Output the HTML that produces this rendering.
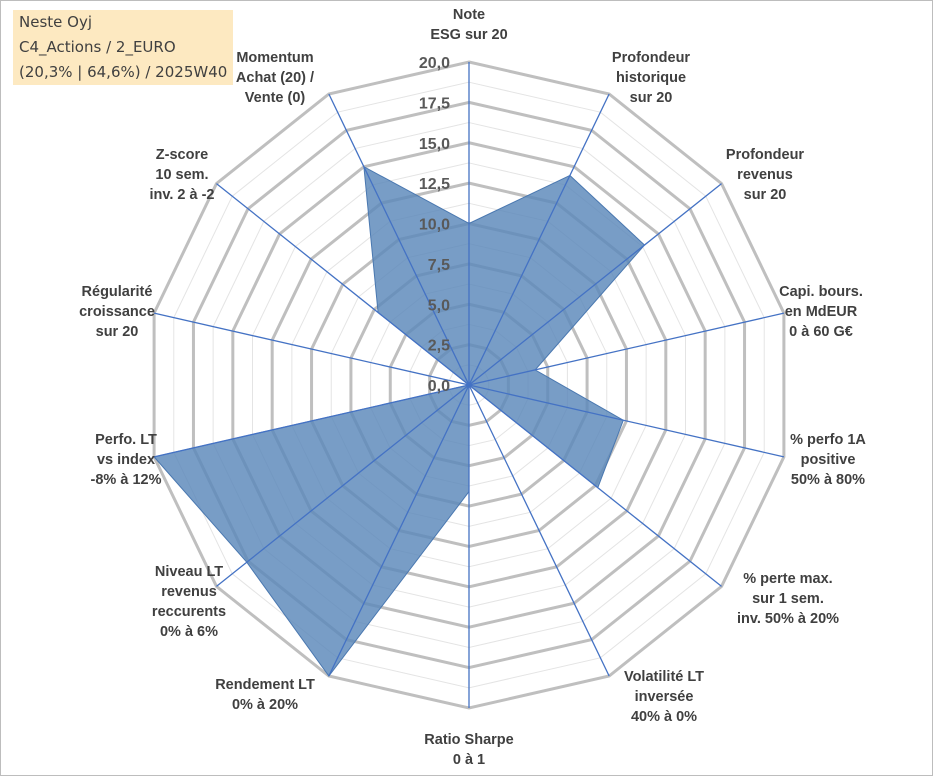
<!DOCTYPE html>
<html><head><meta charset="utf-8">
<style>
html,body{margin:0;padding:0;background:#fff;}
#wrap{position:relative;width:933px;height:776px;overflow:hidden;font-family:"Liberation Sans",Arial,sans-serif;}
#frame{position:absolute;left:0;top:0;width:931px;height:774px;border:1px solid #bdbdbd;}
#title{position:absolute;left:13px;top:10px;width:220px;height:75px;background:#fde9c1;color:#404040;font-family:"DejaVu Sans",sans-serif;font-size:15px;line-height:25px;padding-left:6px;box-sizing:border-box;}
.lbl{position:absolute;font-weight:bold;font-size:14.5px;color:#404040;text-align:center;line-height:20px;white-space:nowrap;transform:translate(-50%,0);}
</style></head><body>
<div id="wrap">
<div id="frame"></div>
<svg id="chart" width="933" height="776" style="position:absolute;left:0;top:0"></svg>
<div id="title">Neste Oyj<br>C4_Actions / 2_EURO<br>(20,3% | 64,6%) / 2025W40</div>
<div id="labels"></div>
</div>
<script>
const categories = ["Note\nESG sur 20","Profondeur\nhistorique\nsur 20","Profondeur\nrevenus\nsur 20","Capi. bours.\nen MdEUR\n0 à 60 G€","% perfo 1A\npositive\n50% à 80%","% perte max.\nsur 1 sem.\ninv. 50% à 20%","Volatilité LT\ninversée\n40% à 0%","Ratio Sharpe\n0 à 1","Rendement LT\n0% à 20%","Niveau LT\nrevenus\nreccurents\n0% à 6%","Perfo. LT\nvs index\n-8% à 12%","Régularité\ncroissance\nsur 20","Z-score\n10 sem.\ninv. 2 à -2","Momentum\nAchat (20) /\nVente (0)"];
const values = [10, 14.4, 13.9, 4.2, 9.8, 10.2, 0, 6.6, 20, 17.6, 20, 0, 7.2, 15];
const tickLabels = ["0,0","2,5","5,0","7,5","10,0","12,5","15,0","17,5","20,0"];
const maxVal = 20;
// label anchor positions (top-center of each label block)
const labelPos = [[469,5],[651,48],[765,145],[821,282],[828,430],[788,569],[664,667],[469,730],[265,675],[189,562],[126,430],[117,282],[182,145],[275,48]];

const cx=469, cy=385, R=323, N=categories.length;
const svg=document.getElementById('chart');
const NS='http://www.w3.org/2000/svg';
function ang(i){return -Math.PI/2 + i*2*Math.PI/N;}
function pt(i,v){const r=v/maxVal*R;return [cx+r*Math.cos(ang(i)), cy+r*Math.sin(ang(i))];}
function mk(t,a){const e=document.createElementNS(NS,t);for(const k in a)e.setAttribute(k,a[k]);svg.appendChild(e);return e;}
// minor rings
for(let k=1;k<=16;k++){
  const v=k*1.25; if(k%2===0) continue;
  const p=[];for(let i=0;i<N;i++)p.push(pt(i,v).join(','));
  const e=mk('polygon',{points:p.join(' '),fill:'none',stroke:'#e4e4e4','stroke-width':1});
  
  
}
for(let k=1;k<tickLabels.length;k++){
  const v=k*2.5;
  const p=[];for(let i=0;i<N;i++)p.push(pt(i,v).join(','));
  const e=mk('polygon',{points:p.join(' '),fill:'none',stroke:'#bfbfbf','stroke-width':3});
  
  
}
// data polygon
const dp=values.map((v,i)=>pt(i,v).join(',')).join(' ');
const area=mk('polygon',{points:dp,fill:'#5a87ba','fill-opacity':0.82,stroke:'#4a78b0','stroke-width':1});


// spokes
for(let i=0;i<N;i++){
  const [x,y]=pt(i,maxVal);
  const l=mk('line',{x1:cx,y1:cy,x2:x,y2:y,stroke:'#4472c4','stroke-width':1.3});
  
  
}
// tick labels
tickLabels.forEach((t,k)=>{
  const v=k*2.5; const y=cy - v/maxVal*R;
  const e=mk('text',{x:450,y:y+6,'text-anchor':'end','font-size':16,'font-weight':'bold',fill:'#595959','font-family':'Liberation Sans, Arial, sans-serif'});
  e.textContent=t;
  
  
});
// category labels
const L=document.getElementById('labels');
categories.forEach((c,i)=>{
  const d=document.createElement('div');
  d.className='lbl';
  d.style.left=labelPos[i][0]+'px';
  d.style.top=labelPos[i][1]+'px';
  d.innerHTML=c.split('\n').join('<br>');
  
  
  L.appendChild(d);
});
</script>
</body></html>
